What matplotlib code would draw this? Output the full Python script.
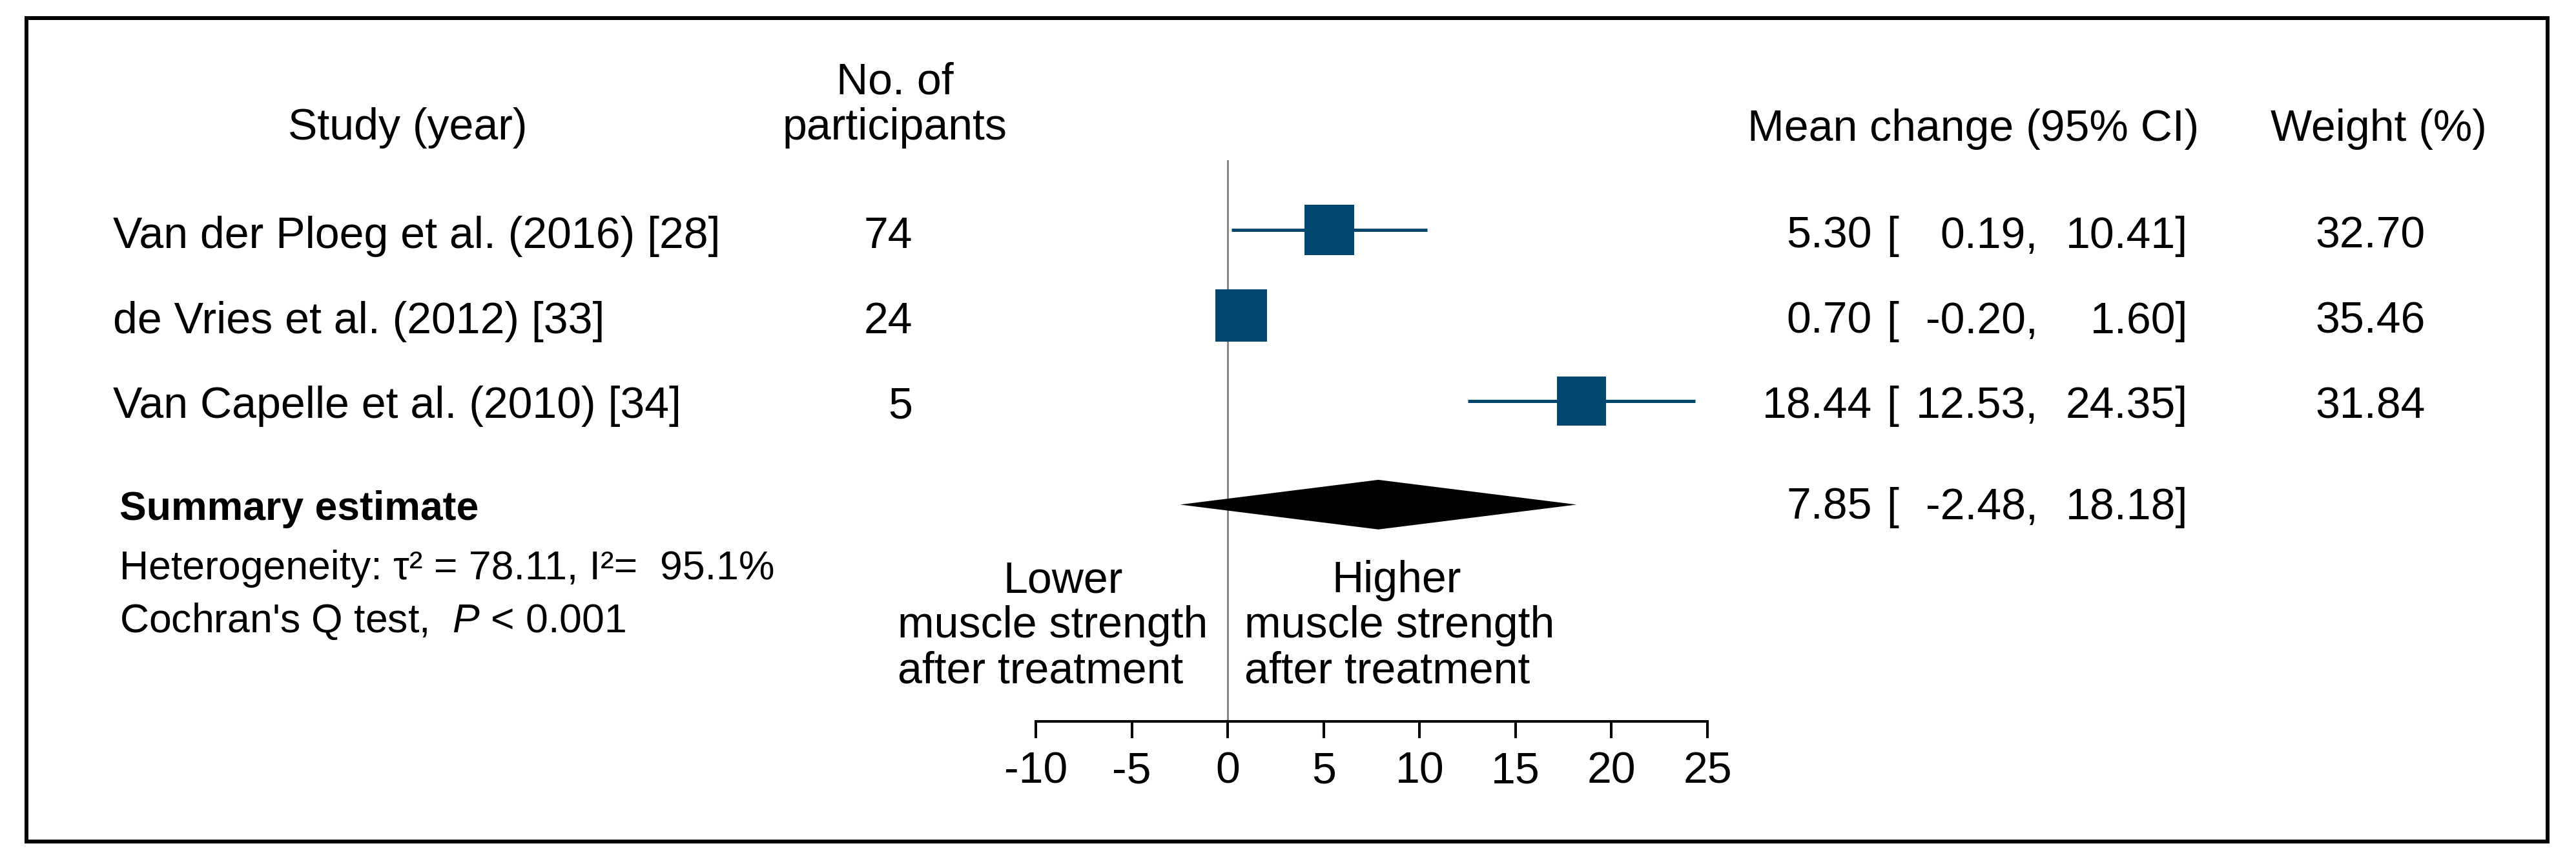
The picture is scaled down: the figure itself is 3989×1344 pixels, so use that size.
import matplotlib
matplotlib.use("Agg")
import matplotlib.pyplot as plt
from matplotlib.patches import Polygon, Rectangle
import numpy as np

# ---------------- data ----------------
studies = ["Van der Ploeg et al. (2016) [28]",
           "de Vries et al. (2012) [33]",
           "Van Capelle et al. (2010) [34]"]
n_participants = [74, 24, 5]
means = [5.30, 0.70, 18.44]
ci_low = [0.19, -0.20, 12.53]
ci_high = [10.41, 1.60, 24.35]
weights = [32.70, 35.46, 31.84]
summary_mean = 7.85
summary_low = -2.48
summary_high = 18.18
tau2 = 78.11
i2 = 95.1
p_text = "< 0.001"
xticks = [-10, -5, 0, 5, 10, 15, 20, 25]

# ---------------- style ----------------
plt.rcParams['font.family'] = ['Liberation Sans', 'DejaVu Sans']
plt.rcParams['mathtext.fontset'] = 'custom'
plt.rcParams['mathtext.rm'] = 'Liberation Sans'
plt.rcParams['mathtext.it'] = 'Liberation Sans:italic'
plt.rcParams['mathtext.bf'] = 'Liberation Sans:bold'

W, H = 3989, 1344
FS = 49
FS2 = 45
BLUE = '#00466F'

fig = plt.figure(figsize=(W / 100, H / 100), dpi=100)
fig.patch.set_facecolor('white')


def fx(x):
    return x / W


def fy(y):
    return 1 - y / H


def txt(x, y, s, ha='left', size=FS, **kw):
    fig.text(fx(x), fy(y), s, ha=ha, va='baseline', fontsize=size, **kw)


# outer frame
fig.patches.append(Rectangle((fx(41), fy(1303)), fx(3945) - fx(41), fy(28) - fy(1303),
                             transform=fig.transFigure, fill=False, lw=4.3,
                             edgecolor='black'))

# ---------------- forest axes ----------------
ax_left, ax_right, ax_top, ax_bot = 1604, 2644, 248, 1117
ax = fig.add_axes([fx(ax_left), fy(ax_bot), (ax_right - ax_left) / W, (ax_bot - ax_top) / H])
row_y = np.arange(1, len(studies) + 1)
summary_y = 4.21
ax.set_xlim(-10, 25)
ax.set_ylim(6.743, 0.185)
ax.set_facecolor('none')
for s in ['left', 'top', 'right']:
    ax.spines[s].set_visible(False)
ax.spines['bottom'].set_linewidth(2.9)
ax.set_yticks([])
ax.set_xticks(xticks)
ax.set_xticklabels([str(t) for t in xticks])
ax.tick_params(axis='x', direction='out', length=19, width=2.9, pad=14, labelsize=FS)

ax.axvline(0, color='#808080', lw=2.0, zorder=1)

ax.hlines(row_y, ci_low, ci_high, color=BLUE, lw=3.6, zorder=2)
sides = 9.7 * np.sqrt(np.array(weights))
ax.scatter(means, row_y, marker='s', s=sides ** 2, color=BLUE, linewidths=0, zorder=3)

dh = 0.29
diamond = Polygon([(summary_low, summary_y), (summary_mean, summary_y - dh),
                   (summary_high, summary_y), (summary_mean, summary_y + dh)],
                  closed=True, facecolor='black', edgecolor='black', lw=0, zorder=3)
ax.add_patch(diamond)

# ---------------- headers ----------------
txt(631, 216, "Study (year)", ha='center')
txt(1386, 145, "No. of", ha='center')
txt(1386, 216, "participants", ha='center')
txt(3056, 218, "Mean change (95% CI)", ha='center')
txt(3683, 218, "Weight (%)", ha='center')

# ---------------- rows ----------------
row_base = [384, 516, 647]
for i in range(len(studies)):
    b = row_base[i]
    txt(175, b, studies[i])
    txt(1413, b, str(n_participants[i]), ha='right')
    txt(2899, b, f"{means[i]:.2f}", ha='right')
    txt(2921, b, "[")
    txt(3156, b, f"{ci_low[i]:.2f},", ha='right')
    txt(3388, b, f"{ci_high[i]:.2f}]", ha='right')
    txt(3756, b, f"{weights[i]:.2f}", ha='right')

# summary
sb = 804
txt(2899, sb, f"{summary_mean:.2f}", ha='right')
txt(2921, sb, "[")
txt(3156, sb, f"{summary_low:.2f},", ha='right')
txt(3388, sb, f"{summary_high:.2f}]", ha='right')

txt(185, 805, "Summary estimate", size=FS2, fontweight='bold')
txt(185, 897, f"Heterogeneity: τ² = {tau2:.2f}, I²=  {i2:.1f}%", size=FS2)
txt(185, 979, "Cochran's Q test,  $\\mathit{P}$ " + p_text, size=FS2)

# direction labels
txt(1646, 917, "Lower", ha='center')
txt(1390, 987, "muscle strength")
txt(1390, 1057, "after treatment")
txt(2163, 917, "Higher", ha='center')
txt(1927, 987, "muscle strength")
txt(1927, 1057, "after treatment")

fig.savefig("out.png", dpi=100, facecolor='white')
